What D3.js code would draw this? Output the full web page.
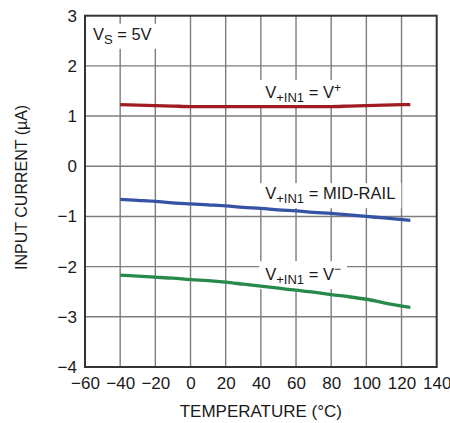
<!DOCTYPE html>
<html>
<head>
<meta charset="utf-8">
<script src="https://cdn.jsdelivr.net/npm/d3@7"></script>
<style>
  html, body { margin: 0; padding: 0; background: #fff; }
  svg text { font-family: "Liberation Sans Narrow", "Arial Narrow", "Liberation Sans", Arial, sans-serif; fill: #1a1a1a; }
</style>
</head>
<body>
<svg id="chart" width="450" height="423"></svg>
<script>
// Temperature points (°C) at which each input current curve is sampled
const temps = [-40, -30, -20, -10, 0, 10, 20, 30, 40, 50, 60, 70, 80, 90, 100, 110, 125];

// Input current (µA) for V+IN1 = V+
const currentVPlus = [1.23, 1.22, 1.21, 1.20, 1.19, 1.19, 1.19, 1.19, 1.19, 1.19, 1.19, 1.19, 1.19, 1.20, 1.21, 1.22, 1.23];
// Input current (µA) for V+IN1 = MID-RAIL
const currentMid = [-0.66, -0.68, -0.70, -0.73, -0.75, -0.77, -0.79, -0.82, -0.84, -0.87, -0.89, -0.92, -0.94, -0.97, -1.00, -1.03, -1.08];
// Input current (µA) for V+IN1 = V−
const currentVMinus = [-2.17, -2.19, -2.21, -2.23, -2.26, -2.28, -2.31, -2.35, -2.39, -2.43, -2.47, -2.51, -2.56, -2.60, -2.65, -2.72, -2.81];

const xTicks = [-60, -40, -20, 0, 20, 40, 60, 80, 100, 120, 140];
const yTicks = [-4, -3, -2, -1, 0, 1, 2, 3];

const series = [
  { name: "vplus", values: currentVPlus, color: "#a01c22" },
  { name: "mid", values: currentMid, color: "#3553a5" },
  { name: "vminus", values: currentVMinus, color: "#27894a" }
];

const W = 450, H = 423;
const margin = { top: 15.7, right: 13.3, bottom: 56, left: 85 };
const svg = d3.select("#chart");

const x = d3.scaleLinear().domain([-60, 140]).range([margin.left, W - margin.right]);
const y = d3.scaleLinear().domain([-4, 3]).range([H - margin.bottom, margin.top]);

// Grid lines
const grid = svg.append("g");
grid.selectAll("line.v").data(xTicks.slice(1, -1)).join("line")
  .attr("x1", d => x(d)).attr("x2", d => x(d))
  .attr("y1", y(3)).attr("y2", y(-4))
  .attr("stroke", "#7d7d7d").attr("stroke-width", 1.4);
grid.selectAll("line.h").data(yTicks.slice(1, -1)).join("line")
  .attr("x1", x(-60)).attr("x2", x(140))
  .attr("y1", d => y(d)).attr("y2", d => y(d))
  .attr("stroke", "#7d7d7d").attr("stroke-width", 1.4);

// Labels with a white backing that interrupts the grid
function label(g, xPos, yPos, parts) {
  const t = g.append("text").attr("x", xPos).attr("y", yPos).attr("font-size", 16.5);
  parts.forEach(p => {
    const ts = t.append("tspan").text(p.text);
    if (p.size) ts.attr("font-size", p.size);
    if (p.dy) ts.attr("dy", p.dy);
  });
  return t;
}

const labelLayer = svg.append("g");
const labels = [
  { x: x(42.5), y: y(1.36), parts: [
    { text: "V" }, { text: "+IN1", size: 13, dy: 4 }, { text: " = V", dy: -4 }, { text: "+", size: 12, dy: -6 }
  ] },
  { x: x(42.5), y: y(-0.655), parts: [
    { text: "V" }, { text: "+IN1", size: 13, dy: 4 }, { text: " = MID-RAIL", dy: -4 }
  ] },
  { x: x(42.5), y: y(-2.27), parts: [
    { text: "V" }, { text: "+IN1", size: 13, dy: 4 }, { text: " = V", dy: -4 }, { text: "\u2212", size: 12, dy: -7 }
  ] },
  { x: x(-55.5), y: y(2.52), parts: [
    { text: "V" }, { text: "S", size: 13, dy: 4 }, { text: " = 5V", dy: -4 }
  ] }
];
labels.forEach(l => {
  const g = labelLayer.append("g");
  const t = label(g, l.x, l.y, l.parts);
  const bb = t.node().getBBox();
  g.insert("rect", "text")
    .attr("x", bb.x - 6).attr("y", bb.y - 1)
    .attr("width", bb.width + 12).attr("height", bb.height + 3)
    .attr("fill", "#fff");
});

// Data curves
const line = d3.line().x((d, i) => x(temps[i])).y(d => y(d)).curve(d3.curveMonotoneX);
svg.append("g").selectAll("path").data(series).join("path")
  .attr("d", d => line(d.values))
  .attr("fill", "none")
  .attr("stroke", d => d.color)
  .attr("stroke-width", 3.3)
  .attr("stroke-linecap", "butt");

// Plot frame
svg.append("rect")
  .attr("x", x(-60)).attr("y", y(3))
  .attr("width", x(140) - x(-60)).attr("height", y(-4) - y(3))
  .attr("fill", "none").attr("stroke", "#333").attr("stroke-width", 2);

// Axes tick labels
const fmt = d => d < 0 ? "\u2212" + Math.abs(d) : String(d);
const xAxis = d3.axisBottom(x).tickValues(xTicks).tickFormat(fmt).tickSize(0).tickPadding(10);
const gx = svg.append("g").attr("transform", `translate(0,${y(-4)})`).call(xAxis);
gx.select(".domain").remove();
gx.selectAll("text").attr("font-size", 17).attr("fill", "#1a1a1a")
  .style("font-family", "'Liberation Sans Narrow', 'Arial Narrow', 'Liberation Sans', sans-serif");

const yAxis = d3.axisLeft(y).tickValues(yTicks).tickFormat(fmt).tickSize(0).tickPadding(8);
const gy = svg.append("g").attr("transform", `translate(${x(-60)},0)`).call(yAxis);
gy.select(".domain").remove();
gy.selectAll("text").attr("font-size", 17).attr("fill", "#1a1a1a")
  .style("font-family", "'Liberation Sans Narrow', 'Arial Narrow', 'Liberation Sans', sans-serif");

// Axis titles
svg.append("text")
  .attr("x", (x(-60) + x(140)) / 2).attr("y", 417)
  .attr("text-anchor", "middle").attr("font-size", 17)
  .text("TEMPERATURE (°C)");
svg.append("text")
  .attr("transform", `translate(27,${(y(3) + y(-4)) / 2 - 4}) rotate(-90)`)
  .attr("text-anchor", "middle").attr("font-size", 16)
  .text("INPUT CURRENT (\u00b5A)");
</script>
</body>
</html>
